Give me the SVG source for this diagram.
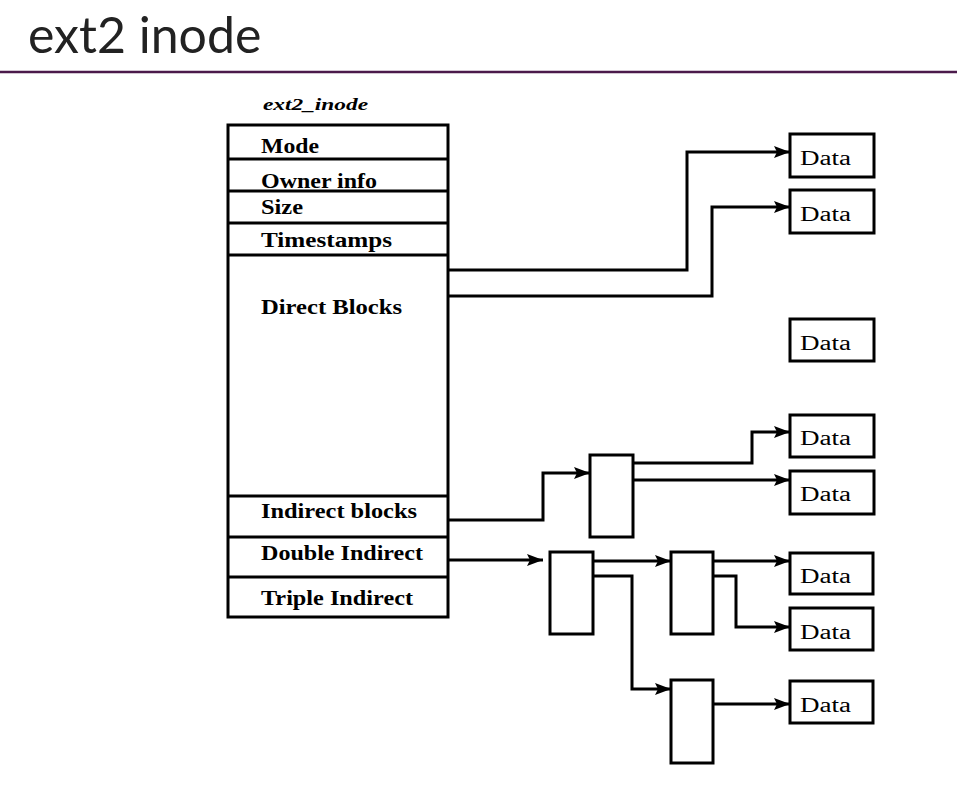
<svg xmlns="http://www.w3.org/2000/svg" width="957" height="791" viewBox="0 0 957 791">
<style>
.box{fill:#fff;stroke:#000;stroke-width:3}
.sep{stroke:#000;stroke-width:3}
.lbl{font-family:"Liberation Serif","Times New Roman",serif;font-weight:bold;font-size:21px;fill:#000}
.dt{font-family:"Liberation Serif","Times New Roman",serif;font-size:20px;fill:#000}
.con{fill:none;stroke:#000;stroke-width:3}
</style>
<defs>
<marker id="ah" viewBox="0 0 16 12" refX="16" refY="6" markerWidth="16" markerHeight="12" markerUnits="userSpaceOnUse" orient="auto">
<path d="M0,0 L16,6 L0,12 L3,6 z" fill="#000"/>
</marker>
</defs>
<rect width="957" height="791" fill="#fff"/>
<g id="title">
<text x="28" y="53" font-family="Lato,'Noto Sans',sans-serif" font-size="50" fill="#222">ext2 inode</text>
<line x1="0" y1="72" x2="957" y2="72" stroke="#4b1a4b" stroke-width="2.5"/>
</g>
<g id="inode">
<text x="263" y="110" font-family="'Liberation Serif',serif" font-style="italic" font-weight="bold" font-size="16" textLength="105" lengthAdjust="spacingAndGlyphs">ext2_inode</text>
<rect class="box" x="228" y="125" width="220" height="492"/>
<line class="sep" x1="228" y1="159" x2="448" y2="159"/>
<line class="sep" x1="228" y1="191" x2="448" y2="191"/>
<line class="sep" x1="228" y1="223" x2="448" y2="223"/>
<line class="sep" x1="228" y1="255" x2="448" y2="255"/>
<line class="sep" x1="228" y1="496" x2="448" y2="496"/>
<line class="sep" x1="228" y1="537" x2="448" y2="537"/>
<line class="sep" x1="228" y1="577" x2="448" y2="577"/>
<text class="lbl" x="261" y="153" textLength="58" lengthAdjust="spacingAndGlyphs">Mode</text>
<text class="lbl" x="261" y="188" textLength="116" lengthAdjust="spacingAndGlyphs">Owner info</text>
<text class="lbl" x="261" y="214" textLength="42" lengthAdjust="spacingAndGlyphs">Size</text>
<text class="lbl" x="261" y="247" textLength="131" lengthAdjust="spacingAndGlyphs">Timestamps</text>
<text class="lbl" x="261" y="314" textLength="141" lengthAdjust="spacingAndGlyphs">Direct Blocks</text>
<text class="lbl" x="261" y="518" textLength="156" lengthAdjust="spacingAndGlyphs">Indirect blocks</text>
<text class="lbl" x="261" y="560" textLength="162" lengthAdjust="spacingAndGlyphs">Double Indirect</text>
<text class="lbl" x="261" y="605" textLength="152" lengthAdjust="spacingAndGlyphs">Triple Indirect</text>
</g>
<g id="data1"><rect class="box" x="790" y="134" width="84" height="43"/><text class="dt" x="800" y="165" textLength="51" lengthAdjust="spacingAndGlyphs">Data</text></g>
<g id="data2"><rect class="box" x="790" y="190" width="84" height="43"/><text class="dt" x="800" y="221" textLength="51" lengthAdjust="spacingAndGlyphs">Data</text></g>
<g id="data3"><rect class="box" x="790" y="319" width="84" height="42"/><text class="dt" x="800" y="350" textLength="51" lengthAdjust="spacingAndGlyphs">Data</text></g>
<g id="data4"><rect class="box" x="790" y="415" width="84" height="42"/><text class="dt" x="800" y="445" textLength="51" lengthAdjust="spacingAndGlyphs">Data</text></g>
<g id="data5"><rect class="box" x="790" y="471" width="84" height="43"/><text class="dt" x="800" y="501" textLength="51" lengthAdjust="spacingAndGlyphs">Data</text></g>
<g id="data6"><rect class="box" x="790" y="553" width="83" height="41"/><text class="dt" x="800" y="583" textLength="51" lengthAdjust="spacingAndGlyphs">Data</text></g>
<g id="data7"><rect class="box" x="790" y="608" width="83" height="42"/><text class="dt" x="800" y="639" textLength="51" lengthAdjust="spacingAndGlyphs">Data</text></g>
<g id="data8"><rect class="box" x="790" y="681" width="83" height="42"/><text class="dt" x="800" y="712" textLength="51" lengthAdjust="spacingAndGlyphs">Data</text></g>
<g id="ind1"><rect class="box" x="590" y="455" width="43" height="82"/></g>
<g id="dbl1"><rect class="box" x="550" y="552" width="43" height="82"/></g>
<g id="dbl2"><rect class="box" x="671" y="552" width="42" height="82"/></g>
<g id="dbl3"><rect class="box" x="671" y="680" width="42" height="83"/></g>
<g id="connectors">
<path class="con" d="M448,270 H687 V152 H790" marker-end="url(#ah)"/>
<path class="con" d="M448,296 H712 V207 H790" marker-end="url(#ah)"/>
<path class="con" d="M448,520 H543 V473 H590" marker-end="url(#ah)"/>
<path class="con" d="M633,463 H752 V432 H790" marker-end="url(#ah)"/>
<path class="con" d="M633,480 H790" marker-end="url(#ah)"/>
<path class="con" d="M448,560 H543" marker-end="url(#ah)"/>
<path class="con" d="M593,561 H671" marker-end="url(#ah)"/>
<path class="con" d="M593,576 H632 V689 H671" marker-end="url(#ah)"/>
<path class="con" d="M713,561 H790" marker-end="url(#ah)"/>
<path class="con" d="M713,576 H736 V627 H790" marker-end="url(#ah)"/>
<path class="con" d="M713,704 H790" marker-end="url(#ah)"/>
</g>
</svg>
